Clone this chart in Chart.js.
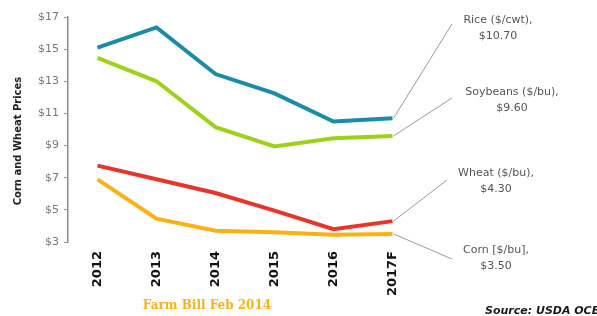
<!DOCTYPE html>
<html>
<head>
<meta charset="utf-8">
<script src="https://cdn.jsdelivr.net/npm/chart.js@4"></script>
<style>
  html, body { margin: 0; padding: 0; background: #fff; }
  #wrap { width: 597px; height: 316px; }
</style>
</head>
<body>
<div id="wrap"><canvas id="chart" width="597" height="316"></canvas></div>
<script>
const YEARS = ["2012", "2013", "2014", "2015", "2016", "2017F"];
const RICE = [15.1, 16.35, 13.45, 12.25, 10.5, 10.7];
const SOYBEANS = [14.45, 13.0, 10.15, 8.95, 9.45, 9.6];
const WHEAT = [7.75, 6.9, 6.05, 4.95, 3.8, 4.3];
const CORN = [6.9, 4.45, 3.7, 3.6, 3.45, 3.5];

const SERIES_NAMES = ["Rice ($/cwt),", "Soybeans ($/bu),", "Wheat ($/bu),", "Corn [$/bu],"];
const SERIES_LAST = ["$10.70", "$9.60", "$4.30", "$3.50"];
const SERIES_COLORS = ["#1a8ca6", "#9fd11c", "#e8342a", "#fbb116"];
const Y_TICKS = [3, 5, 7, 9, 11, 13, 15, 17];

// where the callout labels sit (end of leader line, label centre)
const CALLOUTS = [
  { lx: 452, ly: 24, tx: 498, ty: 20 },
  { lx: 452, ly: 98, tx: 512, ty: 92 },
  { lx: 447, ly: 180, tx: 496, ty: 173 },
  { lx: 452, ly: 259, tx: 496, ty: 250 }
];

const extras = {
  id: "extras",
  afterDraw(chart) {
    const ctx = chart.ctx;
    const x = chart.scales.x, y = chart.scales.y;
    const last = YEARS.length - 1;
    const seriesData = [RICE, SOYBEANS, WHEAT, CORN];
    ctx.save();

    // y title
    ctx.save();
    ctx.translate(18, 141);
    ctx.rotate(-Math.PI / 2);
    ctx.font = "bold 10px 'DejaVu Sans'";
    ctx.fillStyle = "#222";
    ctx.textAlign = "center";
    ctx.textBaseline = "middle";
    ctx.fillText("Corn and Wheat Prices", 0, 0);
    ctx.restore();

    // leader lines + callouts
    ctx.strokeStyle = "#9a9a9a";
    ctx.lineWidth = 1;
    ctx.font = "11px 'DejaVu Sans'";
    ctx.fillStyle = "#555";
    ctx.textAlign = "center";
    ctx.textBaseline = "middle";
    CALLOUTS.forEach((c, i) => {
      const px = x.getPixelForValue(last) + 1;
      const py = y.getPixelForValue(seriesData[i][last]);
      ctx.beginPath();
      ctx.moveTo(px, py);
      ctx.lineTo(c.lx, c.ly);
      ctx.stroke();
      ctx.fillText(SERIES_NAMES[i], c.tx, c.ty);
      ctx.fillText(SERIES_LAST[i], c.tx, c.ty + 16);
    });

    // footer texts
    ctx.font = "bold 12px 'DejaVu Serif'";
    ctx.fillStyle = "#f9b21c";
    ctx.fillText("Farm Bill Feb 2014", 207, 306);
    ctx.font = "bold italic 11px 'DejaVu Sans'";
    ctx.fillStyle = "#1a1a1a";
    ctx.textAlign = "left";
    ctx.fillText("Source: USDA OCE", 485, 311);
    ctx.restore();
  }
};

const mk = (data, color) => ({
  data, borderColor: color, backgroundColor: color,
  borderWidth: 4, pointRadius: 0, tension: 0, fill: false
});

new Chart(document.getElementById("chart"), {
  type: "line",
  data: {
    labels: YEARS,
    datasets: [
      mk(RICE, SERIES_COLORS[0]),
      mk(SOYBEANS, SERIES_COLORS[1]),
      mk(WHEAT, SERIES_COLORS[2]),
      mk(CORN, SERIES_COLORS[3])
    ]
  },
  options: {
    responsive: false, animation: false,
    layout: { padding: { top: 17, right: 175, left: 0, bottom: 0 } },
    plugins: { legend: { display: false }, tooltip: { enabled: false } },
    scales: {
      x: {
        offset: true,
        grid: { display: false, drawTicks: false },
        border: { display: false },
        ticks: {
          minRotation: 90, maxRotation: 90, padding: 9,
          color: "#111", font: { family: "DejaVu Sans", size: 13, weight: "bold" }
        },
        afterFit: s => { s.height = 74; }
      },
      y: {
        min: 3, max: 17,
        afterBuildTicks: s => { s.ticks = Y_TICKS.map(v => ({ value: v })); },
        grid: { drawOnChartArea: false, drawTicks: true, tickLength: 4, color: "#999" },
        border: { color: "#8a8a8a", width: 1.5 },
        ticks: {
          padding: 5, color: "#777",
          font: { family: "DejaVu Sans", size: 11 },
          callback: v => "$" + v
        },
        afterFit: s => { s.width = 68; }
      }
    }
  },
  plugins: [extras]
});
</script>
</body>
</html>
